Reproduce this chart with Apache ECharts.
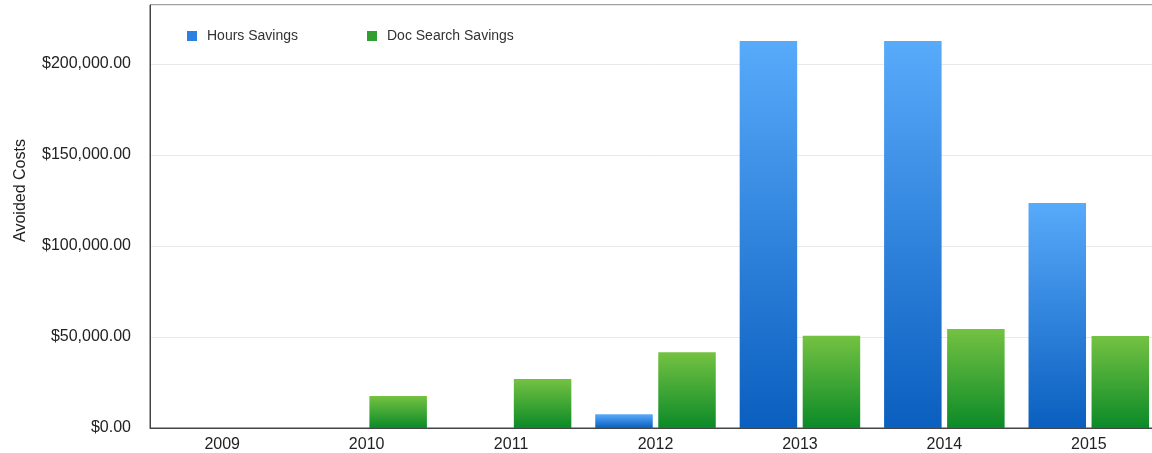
<!DOCTYPE html>
<html>
<head>
<meta charset="utf-8">
<script src="https://cdn.jsdelivr.net/npm/echarts@6/dist/echarts.min.js"></script>
<style>
html,body{margin:0;padding:0;background:#fff;}
#c{width:1152px;height:453px;}
</style>
</head>
<body>
<div id="c"></div>
<script>
var categories = ['2009','2010','2011','2012','2013','2014','2015'];
var hoursSavings = [0, 0, 0, 7500, 212600, 212600, 123600];
var docSearchSavings = [0, 17600, 26900, 41600, 50700, 54400, 50500];
var seriesNames = ['Hours Savings', 'Doc Search Savings'];
var yAxisName = 'Avoided Costs';

var FONT = '"Liberation Sans", Arial, Helvetica, sans-serif';
var chart = echarts.init(document.getElementById('c'));

function grad(top, bottom) {
  return new echarts.graphic.LinearGradient(0, 0, 0, 1, [
    {offset: 0, color: top},
    {offset: 1, color: bottom}
  ]);
}

chart.setOption({
  animation: false,
  backgroundColor: '#ffffff',
  textStyle: {fontFamily: FONT},
  grid: {
    left: 150, right: -9, top: 5, bottom: 25,
    outerBoundsMode: 'none',
    containLabel: false,
    show: true, borderColor: '#444', borderWidth: 1, backgroundColor: 'transparent'
  },
  legend: [
    {
      data: [{name: seriesNames[0], itemStyle: {color: '#2c80e2'}}],
      left: 182, top: 24, itemWidth: 10, itemHeight: 10, icon: 'rect',
      textStyle: {fontSize: 14, color: '#333', fontFamily: FONT, padding: [0, 0, 0, 5]}
    },
    {
      data: [{name: seriesNames[1], itemStyle: {color: '#2fa030'}}],
      left: 362, top: 24, itemWidth: 10, itemHeight: 10, icon: 'rect',
      textStyle: {fontSize: 14, color: '#333', fontFamily: FONT, padding: [0, 0, 0, 5]}
    }
  ],
  xAxis: {
    type: 'category',
    data: categories,
    axisLine: {show: true, lineStyle: {color: '#444', width: 1}},
    axisTick: {show: false},
    axisLabel: {fontSize: 16, color: '#222', margin: 9, fontFamily: FONT},
    splitLine: {show: false}
  },
  yAxis: {
    type: 'value',
    min: 0, max: 232400, interval: 50000,
    name: yAxisName,
    nameLocation: 'middle',
    nameGap: 121,
    nameRotate: 90,
    nameTextStyle: {fontSize: 16, color: '#222', fontFamily: FONT, padding: [0, 0, 0, 52]},
    axisLine: {show: true, lineStyle: {color: '#444', width: 1}},
    axisTick: {show: false},
    axisLabel: {
      fontSize: 16, color: '#222', margin: 19, fontFamily: FONT,
      showMaxLabel: false,
      formatter: function (v) {
        return '$' + v.toLocaleString('en-US', {minimumFractionDigits: 2, maximumFractionDigits: 2});
      }
    },
    splitLine: {show: true, lineStyle: {color: '#e9e9e9', width: 1}}
  },
  series: [
    {
      name: seriesNames[0],
      type: 'bar',
      data: hoursSavings,
      barWidth: 57.5,
      barGap: '9.6%',
      itemStyle: {color: grad('#58aafa', '#0a5fbf')}
    },
    {
      name: seriesNames[1],
      type: 'bar',
      data: docSearchSavings,
      barWidth: 57.5,
      barGap: '9.6%',
      itemStyle: {color: grad('#74c242', '#0b8a28')}
    }
  ]
});
</script>
</body>
</html>
